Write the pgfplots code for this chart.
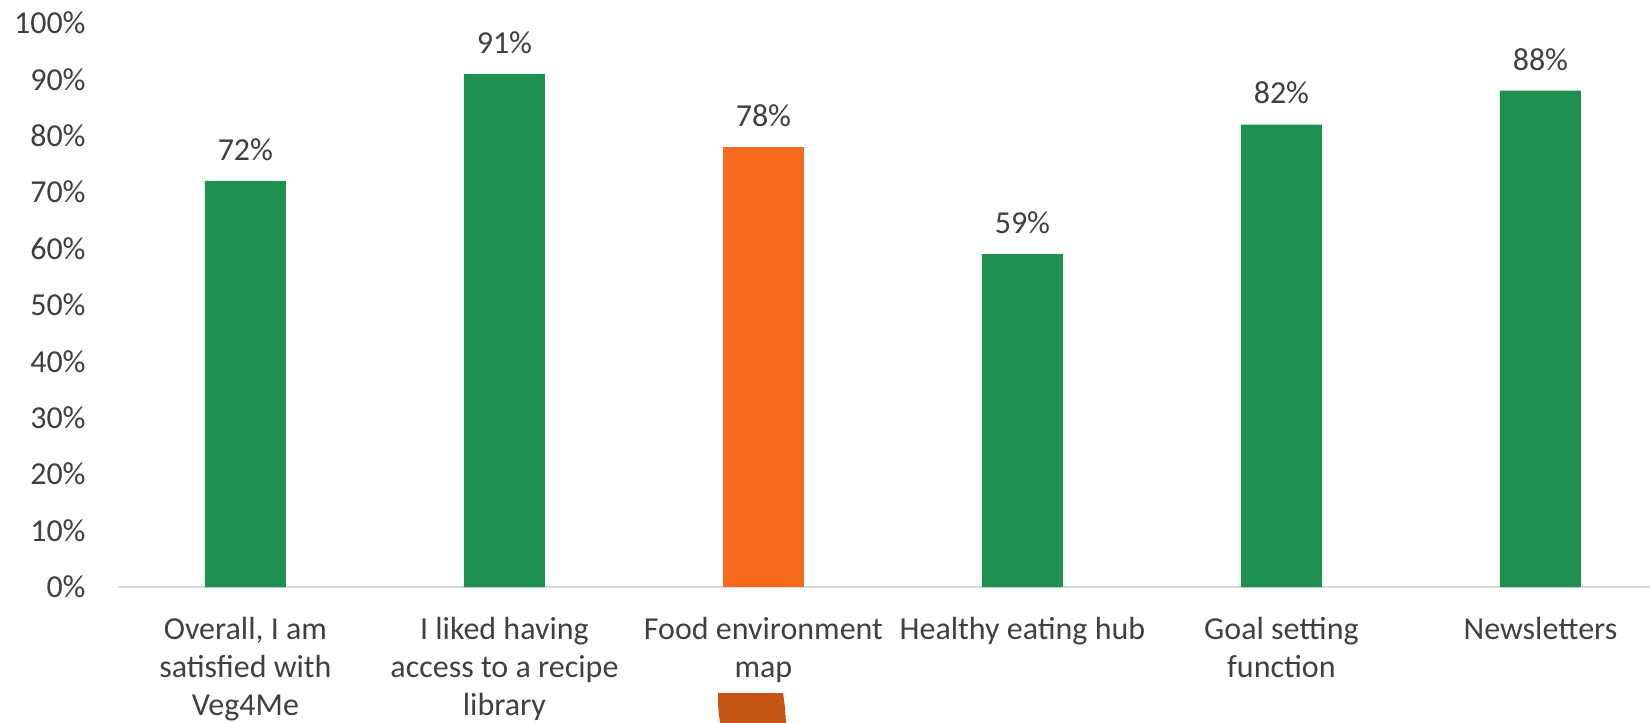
\documentclass[border=0pt]{standalone}
\usepackage{pgfplots}
\pgfplotsset{compat=1.18}
\usepackage{fontspec}
\setmainfont{Carlito}
\definecolor{bargreen}{RGB}{30,143,79}
\definecolor{barorange}{RGB}{246,106,30}
\definecolor{txt}{RGB}{64,64,64}
\definecolor{axgray}{RGB}{217,217,217}
\definecolor{blob}{RGB}{197,85,21}
\begin{document}
\begin{tikzpicture}
\clip (-59pt,-68pt) rectangle (766pt,293.5pt);
\begin{axis}[
  at={(0,0)}, anchor=south west,
  scale only axis, width=766pt, height=282pt,
  xmin=-0.492, xmax=5.423, ymin=0, ymax=100,
  axis x line*=bottom, axis y line*=left,
  y axis line style={draw=none},
  x axis line style={draw=axgray, line width=1.2pt, -},
  major tick length=0pt, tick style={draw=none},
  ytick={0,10,...,100},
  yticklabel={\pgfmathprintnumber{\tick}\%},
  /pgf/number format/assume math mode=true,
  yticklabel style={inner sep=0pt, font=\fontsize{16}{19}\selectfont, text=txt},
  yticklabel shift=16pt,
  xtick={0,1,2,3,4,5},
  xticklabels={{Overall, I am\\satisfied with\\Veg4Me},{I liked having\\access to a recipe\\library},{Food environment\\map},{Healthy eating hub},{Goal setting\\function},{Newsletters}},
  xticklabel style={inner sep=0pt, anchor=north, align=center, font=\fontsize{16}{19}\selectfont, text=txt},
  xticklabel shift=15pt,
  ybar, bar width=40.5pt, bar shift=0pt,
  nodes near coords={\pgfmathprintnumber{\pgfplotspointmeta}\%},
  nodes near coords style={font=\fontsize{16}{19}\selectfont, text=txt, inner sep=0pt, anchor=south, yshift=10pt},
  clip=false,
]
\addplot[fill=bargreen, draw=none] coordinates {(0,72) (1,91) (3,59) (4,82) (5,88)};
\addplot[fill=barorange, draw=none] coordinates {(2,78)};
\end{axis}
\fill[blob] (300pt,-53pt) -- (332.5pt,-53pt) .. controls (333.5pt,-60pt) .. (334pt,-68pt) -- (301pt,-68pt) .. controls (300pt,-60pt) .. (300pt,-53pt) -- cycle;
\end{tikzpicture}
\end{document}
